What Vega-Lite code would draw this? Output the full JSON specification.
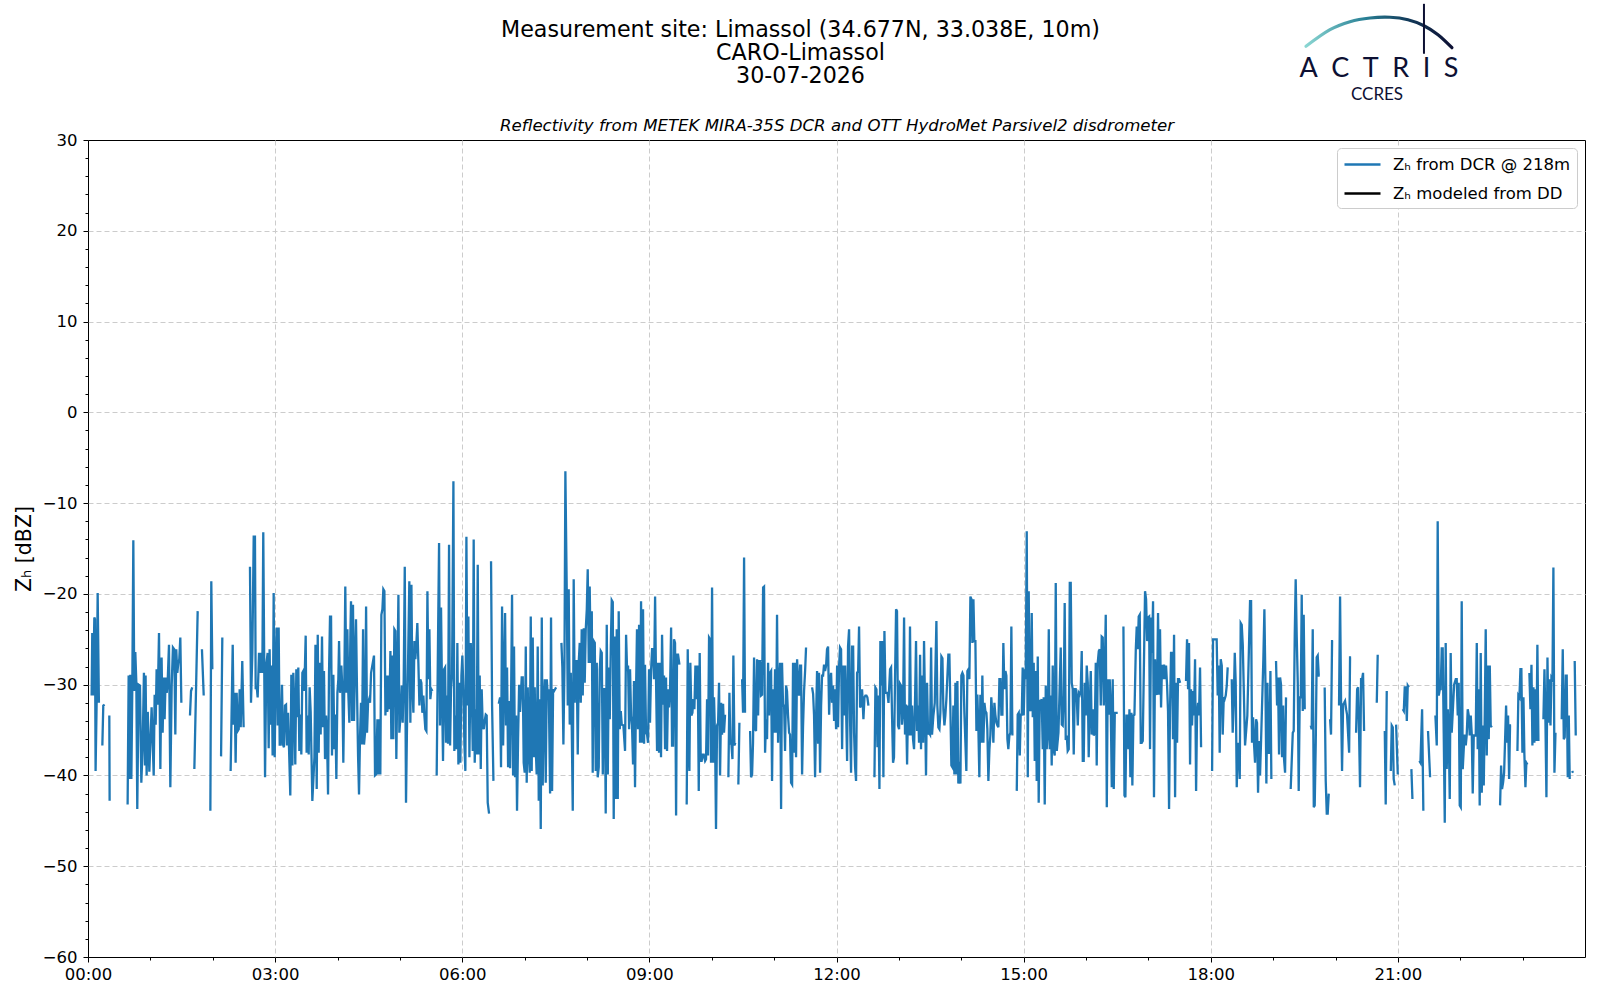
{
  "$schema": "https://vega.github.io/schema/vega-lite/v6.json",
  "description": "Reflectivity from METEK MIRA-35S DCR, Limassol, 30-07-2026",
  "width": 1497,
  "height": 817,
  "autosize": {"type": "none"},
  "padding": {"left": 88, "top": 140, "right": 15, "bottom": 43},
  "background": "white",
  "title": {
    "text": ["Measurement site: Limassol (34.677N, 33.038E, 10m)", "CARO-Limassol", "30-07-2026"],
    "fontSize": 22.2,
    "fontWeight": "normal",
    "lineHeight": 23,
    "anchor": "middle",
    "frame": "group",
    "dx": -36,
    "offset": -84.5,
    "color": "black"
  },
  "datasets": {
    "zh": [
      {"m":3.5,"z":-31.2},{"m":4.1,"z":-24.3},{"m":4.8,"z":-31.2},{"m":6.1,"z":-22.6},{"m":6.7,"z":-22.8},{"m":7.3,"z":-39.5},{"m":8.3,"z":-32.0},{"m":9.3,"z":-19.9},{"m":10.5,"z":-32.0},{"m":11.5,"z":null},
      {"m":13.8,"z":-36.7},{"m":14.7,"z":-32.3},{"m":16.0,"z":-32.2},{"m":17.5,"z":null},
      {"m":20.5,"z":-33.4},{"m":20.8,"z":-42.8},{"m":22,"z":null},
      {"m":38.1,"z":-43.2},{"m":39.1,"z":-29.0},{"m":40.1,"z":-40.4},{"m":40.7,"z":-28.9},{"m":41.7,"z":-40.4},{"m":42.6,"z":-30.5},{"m":43.6,"z":-14.1},{"m":44.5,"z":-30.7},{"m":45.5,"z":-26.4},{"m":46.5,"z":-29.8},{"m":47.4,"z":-43.7},{"m":48.7,"z":-30.0},{"m":50.0,"z":-30.1},{"m":51.3,"z":-40.8},{"m":52.6,"z":-36.7},{"m":53.8,"z":-28.7},{"m":54.8,"z":-38.9},{"m":55.4,"z":-29.0},{"m":56.4,"z":-40.0},{"m":57.5,"z":-33.0},{"m":59.0,"z":-39.6},{"m":61.2,"z":-32.5},{"m":63.2,"z":-40.0},{"m":64.1,"z":-31.1},{"m":65.1,"z":-34.4},{"m":66.0,"z":-28.3},{"m":67.0,"z":-32.2},{"m":68.3,"z":-24.3},{"m":69.6,"z":-39.3},{"m":70.8,"z":-27.0},{"m":71.8,"z":-35.3},{"m":72.8,"z":-29.2},{"m":73.7,"z":-33.8},{"m":74.7,"z":-29.2},{"m":75.7,"z":-30.9},{"m":76.6,"z":-29.8},{"m":77.9,"z":-25.6},{"m":79.2,"z":-41.3},{"m":80.5,"z":-30.1},{"m":81.7,"z":-25.9},{"m":83.0,"z":-26.1},{"m":84.0,"z":-35.5},{"m":84.9,"z":-26.1},{"m":85.9,"z":-28.7},{"m":86.9,"z":-27.6},{"m":87.8,"z":-27.2},{"m":88.8,"z":-24.8},{"m":89.8,"z":-32.0},{"m":91,"z":null},
      {"m":98.1,"z":-33.4},{"m":99.1,"z":-30.7},{"m":100.3,"z":-30.3},{"m":101.3,"z":null},
      {"m":102.3,"z":-39.3},{"m":105.5,"z":-21.9},{"m":107,"z":null},
      {"m":109.6,"z":-26.1},{"m":111.3,"z":-31.2},{"m":113,"z":null},
      {"m":117.7,"z":-43.9},{"m":118.6,"z":-18.6},{"m":119.6,"z":-28.3},{"m":121,"z":null},
      {"m":128.0,"z":-37.9},{"m":129.2,"z":-24.8},{"m":131,"z":null},
      {"m":137.2,"z":-39.5},{"m":139.2,"z":-25.6},{"m":140.1,"z":-34.4},{"m":141.1,"z":-30.9},{"m":142.0,"z":-38.6},{"m":143.0,"z":-30.9},{"m":144.0,"z":-35.1},{"m":145.0,"z":-34.9},{"m":145.9,"z":-30.5},{"m":146.9,"z":-34.7},{"m":148.4,"z":-27.4},{"m":149.7,"z":-34.7},{"m":152,"z":null},
      {"m":155.8,"z":-17.0},{"m":156.8,"z":-32.0},{"m":158.1,"z":-26.5},{"m":159.4,"z":-13.7},{"m":160.6,"z":-13.7},{"m":161.3,"z":-30.5},{"m":162.2,"z":-30.1},{"m":163.2,"z":-31.4},{"m":164.5,"z":-26.5},{"m":165.4,"z":-28.7},{"m":166.7,"z":-26.5},{"m":167.7,"z":-28.7},{"m":168.6,"z":-13.2},{"m":170.3,"z":-40.2},{"m":171.5,"z":-27.8},{"m":172.8,"z":-26.5},{"m":173.8,"z":-37.0},{"m":174.7,"z":-26.1},{"m":175.7,"z":-34.4},{"m":176.7,"z":-27.9},{"m":177.6,"z":-37.8},{"m":178.6,"z":-19.9},{"m":179.6,"z":-38.0},{"m":180.5,"z":-27.9},{"m":181.5,"z":-23.7},{"m":182.5,"z":-34.5},{"m":183.4,"z":-23.7},{"m":184.4,"z":-36.6},{"m":185.3,"z":-36.6},{"m":186.6,"z":-30.0},{"m":187.6,"z":-36.6},{"m":188.5,"z":-36.9},{"m":189.5,"z":-32.3},{"m":190.5,"z":-32.2},{"m":191.4,"z":-36.7},{"m":192.4,"z":-33.1},{"m":193.4,"z":-37.1},{"m":194.6,"z":-42.2},{"m":195.6,"z":-28.9},{"m":196.6,"z":-38.9},{"m":197.5,"z":-28.7},{"m":198.5,"z":-32.3},{"m":199.4,"z":-38.8},{"m":200.4,"z":-28.3},{"m":201.4,"z":-33.6},{"m":202.3,"z":-28.1},{"m":203.3,"z":-37.3},{"m":204.3,"z":-33.3},{"m":205.2,"z":-37.7},{"m":206.2,"z":-28.7},{"m":207.1,"z":-28.5},{"m":208.1,"z":-30.7},{"m":209.4,"z":-24.6},{"m":210.3,"z":-37.5},{"m":211.3,"z":-33.4},{"m":212.3,"z":-37.7},{"m":213.2,"z":-30.3},{"m":214.2,"z":-33.0},{"m":215.8,"z":-42.8},{"m":217.1,"z":-39.7},{"m":217.8,"z":-38.0},{"m":218.8,"z":-25.6},{"m":220.0,"z":-41.5},{"m":221.0,"z":-24.5},{"m":221.9,"z":-37.5},{"m":222.9,"z":-27.6},{"m":223.8,"z":-35.5},{"m":225.1,"z":-24.7},{"m":226.1,"z":-34.7},{"m":227.0,"z":-28.5},{"m":228.0,"z":-38.2},{"m":229.0,"z":-33.4},{"m":229.9,"z":-35.5},{"m":230.9,"z":-42.1},{"m":231.8,"z":-28.9},{"m":232.8,"z":-22.5},{"m":233.8,"z":-22.5},{"m":234.7,"z":-37.8},{"m":236.0,"z":-28.9},{"m":237.0,"z":-37.1},{"m":237.9,"z":-33.3},{"m":238.9,"z":-40.4},{"m":239.9,"z":-30.9},{"m":240.8,"z":-29.4},{"m":241.5,"z":-25.2},{"m":242.4,"z":-30.9},{"m":243.7,"z":-27.9},{"m":244.7,"z":-30.5},{"m":245.6,"z":-38.6},{"m":246.6,"z":-29.4},{"m":247.5,"z":-19.2},{"m":248.5,"z":-30.9},{"m":249.5,"z":-23.9},{"m":250.4,"z":-30.9},{"m":251.4,"z":-34.2},{"m":252.4,"z":-24.3},{"m":253.0,"z":-20.8},{"m":254.0,"z":-34.0},{"m":254.9,"z":-21.2},{"m":255.9,"z":-34.0},{"m":256.9,"z":-27.2},{"m":257.8,"z":-22.8},{"m":258.8,"z":-30.9},{"m":259.8,"z":-37.9},{"m":260.7,"z":-42.1},{"m":261.7,"z":-35.6},{"m":262.6,"z":-32.0},{"m":263.6,"z":-36.6},{"m":264.6,"z":-23.9},{"m":265.5,"z":-36.6},{"m":266.5,"z":-35.3},{"m":267.5,"z":-21.4},{"m":268.4,"z":-35.3},{"m":269.4,"z":-32.0},{"m":270.4,"z":-31.6},
      {"m":271.3,"z":-32.0},{"m":272.3,"z":-28.7},{"m":275.1,"z":-26.8},{"m":276.1,"z":-40.0},{"m":277.1,"z":-39.9},{"m":278.4,"z":-33.8},{"m":279.3,"z":-39.9},{"m":280.3,"z":-33.8},{"m":281.2,"z":-39.9},{"m":282.2,"z":-22.3},{"m":283.2,"z":-21.7},{"m":284.1,"z":-19.5},{"m":285.1,"z":-19.7},{"m":286.1,"z":-33.4},{"m":287.0,"z":-29.0},{"m":288.0,"z":-33.0},{"m":289.0,"z":-29.0},{"m":289.9,"z":-32.7},{"m":290.9,"z":-26.3},{"m":291.8,"z":-36.0},{"m":292.8,"z":-26.8},{"m":293.7,"z":-36.0},{"m":294.7,"z":-23.9},{"m":295.7,"z":-24.1},{"m":296.6,"z":-38.2},{"m":297.6,"z":-29.0},{"m":298.6,"z":-20.1},{"m":299.5,"z":-35.3},{"m":300.8,"z":-33.1},{"m":301.8,"z":-30.1},{"m":302.7,"z":-34.2},{"m":303.7,"z":-29.4},{"m":304.7,"z":-17.0},{"m":305.9,"z":-43.0},{"m":306.9,"z":-34.2},{"m":307.9,"z":-27.4},{"m":309.1,"z":-18.6},{"m":310.1,"z":-34.2},{"m":311.1,"z":-19.0},{"m":312.0,"z":-30.1},{"m":313.0,"z":-33.1},{"m":314.0,"z":-25.2},{"m":314.9,"z":-27.2},{"m":315.9,"z":-25.4},{"m":316.8,"z":-23.2},{"m":317.8,"z":-27.6},{"m":318.8,"z":-32.3},{"m":319.7,"z":-29.4},{"m":320.7,"z":-29.8},{"m":321.6,"z":-33.1},{"m":322.6,"z":-31.2},{"m":323.6,"z":-33.4},{"m":324.5,"z":-34.9},{"m":325.5,"z":-35.1},{"m":326.5,"z":-19.7},{"m":327.4,"z":-29.4},{"m":328.4,"z":-23.9},{"m":329.3,"z":-31.6},{"m":330.3,"z":-30.5},{"m":331.3,"z":-30.7},{"m":333,"z":null},
      {"m":335.4,"z":-40.0},{"m":336.7,"z":-25.0},{"m":337.7,"z":-14.4},{"m":338.6,"z":-34.5},{"m":339.6,"z":-21.5},{"m":340.6,"z":-31.4},{"m":341.5,"z":-38.4},{"m":342.5,"z":-28.3},{"m":343.5,"z":-28.1},{"m":344.4,"z":-36.4},{"m":345.4,"z":-31.2},{"m":346.3,"z":-36.5},{"m":347.3,"z":-14.6},{"m":348.3,"z":-36.7},{"m":349.2,"z":-30.5},{"m":350.2,"z":-28.9},{"m":351.5,"z":-7.6},{"m":352.4,"z":-37.3},{"m":353.4,"z":-33.4},{"m":354.4,"z":-37.1},{"m":355.3,"z":-25.4},{"m":356.3,"z":-38.8},{"m":357.2,"z":-29.8},{"m":358.2,"z":-38.6},{"m":359.2,"z":-29.0},{"m":360.1,"z":-26.8},{"m":361.1,"z":-30.5},{"m":362.1,"z":-36.7},{"m":363.0,"z":-39.5},{"m":364.0,"z":-13.7},{"m":365.0,"z":-32.3},{"m":365.9,"z":-22.5},{"m":366.9,"z":-38.0},{"m":368.2,"z":-25.4},{"m":369.1,"z":-29.8},{"m":370.1,"z":-37.3},{"m":371.0,"z":-14.0},{"m":372.0,"z":-38.6},{"m":373.0,"z":-32.7},{"m":373.9,"z":-37.7},{"m":374.9,"z":-16.8},{"m":375.8,"z":-37.7},{"m":376.8,"z":-29.0},{"m":377.8,"z":-39.3},{"m":378.7,"z":-30.5},{"m":379.7,"z":-34.5},{"m":380.7,"z":-34.9},{"m":381.6,"z":-34.0},{"m":382.6,"z":-33.3},{"m":383.5,"z":-33.4},{"m":384.5,"z":-43.0},{"m":385.8,"z":-44.2},{"m":386.8,"z":null},
      {"m":387.7,"z":-16.4},{"m":388.7,"z":-32.3},{"m":390.0,"z":-40.6},{"m":392,"z":null},
      {"m":395.1,"z":-32.1},{"m":396.4,"z":-31.4},{"m":397.3,"z":-39.1},{"m":398.3,"z":-21.4},{"m":399.3,"z":-36.7},{"m":400.2,"z":-29.8},{"m":401.2,"z":-22.1},{"m":402.1,"z":-34.5},{"m":403.1,"z":-28.1},{"m":404.1,"z":-39.1},{"m":405.0,"z":-31.8},{"m":406.0,"z":-39.2},{"m":407.0,"z":-30.9},{"m":407.9,"z":-20.1},{"m":408.9,"z":-40.0},{"m":409.8,"z":-25.8},{"m":410.8,"z":-40.2},{"m":411.8,"z":-33.4},{"m":412.7,"z":-43.9},{"m":413.7,"z":-36.0},{"m":414.7,"z":-30.0},{"m":415.6,"z":-33.0},{"m":417.2,"z":-29.2},{"m":418.2,"z":-29.2},{"m":419.1,"z":-38.6},{"m":420.1,"z":-39.7},{"m":421.1,"z":-25.8},{"m":422.0,"z":-40.8},{"m":423.0,"z":-30.3},{"m":424.0,"z":-37.7},{"m":424.9,"z":-39.7},{"m":425.9,"z":-22.5},{"m":426.8,"z":-39.5},{"m":427.8,"z":-24.8},{"m":428.8,"z":-38.0},{"m":429.7,"z":-30.3},{"m":430.7,"z":-37.1},{"m":431.6,"z":-39.9},{"m":432.6,"z":-25.8},{"m":433.6,"z":-42.8},{"m":434.5,"z":-31.6},{"m":435.5,"z":-45.9},{"m":436.5,"z":-22.6},{"m":437.4,"z":-41.1},{"m":438.4,"z":-32.0},{"m":439.4,"z":-29.4},{"m":440.3,"z":-40.8},{"m":441.3,"z":-29.4},{"m":442.2,"z":-31.1},{"m":443.2,"z":-30.5},{"m":444.5,"z":-42.0},{"m":445.4,"z":-22.6},{"m":446.4,"z":-41.7},{"m":447.4,"z":-30.5},{"m":448.3,"z":-30.7},{"m":449.3,"z":-30.5},{"m":450.3,"z":-30.3},{"m":452,"z":null},
      {"m":455.4,"z":-25.4},{"m":456.3,"z":-28.1},{"m":457.3,"z":-36.6},{"m":458.3,"z":-28.1},{"m":459.2,"z":-6.5},{"m":460.5,"z":-19.5},{"m":461.5,"z":-32.3},{"m":462.4,"z":-19.5},{"m":463.4,"z":-34.4},{"m":464.4,"z":-28.7},{"m":465.3,"z":-34.4},{"m":466.3,"z":-43.9},{"m":467.2,"z":-18.4},{"m":468.2,"z":-32.0},{"m":469.2,"z":-27.4},{"m":470.1,"z":-27.4},{"m":471.1,"z":-37.7},{"m":472.1,"z":-27.4},{"m":473.0,"z":-25.4},{"m":474.0,"z":-32.0},{"m":474.9,"z":-23.9},{"m":475.9,"z":-31.2},{"m":476.9,"z":-23.8},{"m":477.8,"z":-29.8},{"m":478.8,"z":-23.9},{"m":479.8,"z":-21.7},{"m":480.7,"z":-17.3},{"m":481.7,"z":-27.6},{"m":482.6,"z":-19.2},{"m":483.6,"z":-27.6},{"m":484.6,"z":-21.9},{"m":485.5,"z":-39.7},{"m":486.5,"z":-25.2},{"m":487.5,"z":-25.4},{"m":488.4,"z":-39.5},{"m":489.4,"z":-27.6},{"m":490.3,"z":-40.2},{"m":491.3,"z":-39.1},{"m":492.3,"z":-28.3},{"m":493.2,"z":-26.3},{"m":494.2,"z":-26.5},{"m":495.2,"z":-39.9},{"m":496.1,"z":-30.5},{"m":497.1,"z":-30.5},{"m":498.0,"z":-44.2},{"m":499.0,"z":-23.4},{"m":500.0,"z":-39.9},{"m":500.9,"z":-28.1},{"m":501.9,"z":-33.8},{"m":502.9,"z":-25.8},{"m":503.8,"z":-20.7},{"m":504.8,"z":-20.9},{"m":505.7,"z":-44.8},{"m":506.7,"z":-24.7},{"m":507.7,"z":-42.6},{"m":508.6,"z":-23.9},{"m":509.6,"z":-42.6},{"m":510.5,"z":-21.9},{"m":511.5,"z":-34.9},{"m":512.5,"z":-32.9},{"m":513.4,"z":-34.4},{"m":515.0,"z":-34.5},{"m":516.6,"z":-37.3},{"m":517.6,"z":-24.5},{"m":518.6,"z":-28.5},{"m":519.5,"z":-27.9},{"m":520.5,"z":-34.9},
      {"m":521.4,"z":-28.3},{"m":522.4,"z":-33.4},{"m":523.3,"z":-34.5},{"m":524.3,"z":-38.8},{"m":525.2,"z":-29.6},{"m":526.2,"z":-41.3},{"m":527.2,"z":-30.5},{"m":528.1,"z":-23.9},{"m":529.1,"z":-34.9},{"m":530.1,"z":-23.4},{"m":531.0,"z":-36.4},{"m":532.0,"z":-20.8},{"m":533.0,"z":-36.4},{"m":533.9,"z":-21.7},{"m":534.9,"z":-36.5},{"m":535.8,"z":-27.8},{"m":536.8,"z":-35.3},{"m":537.8,"z":-35.5},{"m":538.7,"z":-36.4},{"m":539.7,"z":-28.3},{"m":540.6,"z":-34.2},{"m":541.6,"z":-28.5},{"m":542.6,"z":-26.1},{"m":543.5,"z":-26.1},{"m":544.5,"z":-29.4},{"m":545.5,"z":-20.3},{"m":546.4,"z":-29.4},{"m":547.4,"z":-37.3},{"m":548.3,"z":-27.6},{"m":549.3,"z":-37.5},{"m":550.3,"z":-27.6},{"m":551.2,"z":-38.0},{"m":552.2,"z":-24.5},{"m":553.2,"z":-32.2},{"m":554.1,"z":-29.0},{"m":555.1,"z":-37.1},{"m":556.0,"z":-29.2},{"m":557.0,"z":-37.3},{"m":558.0,"z":-30.5},{"m":558.9,"z":-32.5},{"m":559.9,"z":-30.5},{"m":560.9,"z":-23.7},{"m":561.8,"z":-36.7},{"m":562.8,"z":-36.7},{"m":563.7,"z":-25.0},{"m":564.7,"z":-25.4},{"m":565.7,"z":-44.4},{"m":566.6,"z":-26.7},{"m":567.6,"z":-26.7},{"m":568.9,"z":-27.8},{"m":570,"z":null},
      {"m":575.9,"z":-43.2},{"m":576.9,"z":-26.1},{"m":577.8,"z":-37.0},{"m":578.5,"z":-39.5},{"m":579.4,"z":-27.6},{"m":580.4,"z":-33.4},{"m":581.4,"z":-33.1},{"m":582.3,"z":-31.6},{"m":583.3,"z":-32.7},{"m":584.3,"z":-27.9},{"m":585.2,"z":-31.6},{"m":586.5,"z":-27.9},{"m":587.5,"z":-41.7},{"m":588.4,"z":-26.5},{"m":589.4,"z":-38.4},{"m":590.3,"z":-38.4},{"m":591.3,"z":-37.7},{"m":592.3,"z":-37.7},{"m":593.6,"z":-38.4},{"m":594.5,"z":-38.2},{"m":595.5,"z":-31.6},{"m":596.4,"z":-37.8},{"m":597.4,"z":-24.8},{"m":598.4,"z":-25.0},{"m":599.3,"z":-38.6},{"m":600.3,"z":-19.3},{"m":601.3,"z":-38.6},{"m":602.2,"z":-31.4},{"m":603.2,"z":-36.0},{"m":604.1,"z":-45.9},{"m":605.1,"z":-34.5},{"m":606.1,"z":-34.2},{"m":607.0,"z":-29.8},{"m":608.0,"z":-40.0},{"m":609.0,"z":-32.0},{"m":609.9,"z":-35.5},{"m":610.9,"z":-32.1},{"m":611.8,"z":-35.3},{"m":612.8,"z":-33.3},{"m":614,"z":null},
      {"m":616.0,"z":-40.2},{"m":617.0,"z":-30.9},{"m":617.9,"z":-36.5},{"m":618.9,"z":-36.5},{"m":619.9,"z":-38.2},{"m":620.8,"z":-26.8},{"m":621.8,"z":-36.7},{"m":622.7,"z":-36.4},{"m":624,"z":null},
      {"m":625.6,"z":-41.0},{"m":626.6,"z":-34.2},{"m":628,"z":null},
      {"m":629.2,"z":-29.4},{"m":630.1,"z":-33.1},{"m":631.1,"z":-16.0},{"m":632.0,"z":-33.1},{"m":635,"z":null},
      {"m":636.9,"z":-35.1},{"m":637.8,"z":-40.2},{"m":638.8,"z":-39.9},{"m":639.7,"z":-36.4},{"m":640.7,"z":-27.0},{"m":641.7,"z":-34.9},{"m":642.6,"z":-35.1},{"m":643.6,"z":-27.2},{"m":644.6,"z":-33.4},{"m":645.5,"z":-27.4},{"m":646.5,"z":-27.4},{"m":647.4,"z":-31.2},{"m":648.4,"z":-31.1},{"m":649.4,"z":-19.3},{"m":650.3,"z":-19.2},{"m":651.3,"z":-37.5},{"m":652.2,"z":-33.8},{"m":653.2,"z":-36.0},{"m":654.2,"z":-27.6},{"m":655.1,"z":-33.4},{"m":656.1,"z":-28.7},{"m":657.1,"z":-28.5},{"m":658.0,"z":-40.6},{"m":659.0,"z":-30.5},{"m":660.0,"z":-35.3},{"m":660.9,"z":-28.3},{"m":661.9,"z":-35.3},{"m":662.8,"z":-22.3},{"m":663.8,"z":-36.4},{"m":664.8,"z":-29.8},{"m":665.7,"z":-27.6},{"m":666.7,"z":-43.7},{"m":667.6,"z":-27.6},{"m":668.6,"z":-32.3},{"m":669.6,"z":-32.3},{"m":670.5,"z":-37.3},{"m":671.5,"z":-30.1},{"m":672.4,"z":-30.7},{"m":673.4,"z":-33.4},{"m":674.4,"z":-35.3},{"m":675.3,"z":-35.5},{"m":676.3,"z":-40.8},{"m":677.3,"z":-41.0},{"m":678.2,"z":-27.6},{"m":679.2,"z":-37.5},{"m":680.1,"z":-27.6},{"m":681.1,"z":-38.0},{"m":682.1,"z":-27.2},{"m":683.0,"z":-29.8},{"m":684.0,"z":-31.2},{"m":685.0,"z":-27.9},{"m":685.9,"z":-27.9},{"m":686.9,"z":-39.9},{"m":687.8,"z":-34.7},{"m":688.8,"z":-30.7},{"m":689.8,"z":-28.5},{"m":690.7,"z":-25.9},{"m":693,"z":null},
      {"m":696.5,"z":-30.3},{"m":697.5,"z":-31.0},{"m":698.4,"z":-33.4},{"m":699.4,"z":-40.2},{"m":700.4,"z":-33.4},{"m":701.3,"z":-28.5},{"m":702.3,"z":-36.5},{"m":703.2,"z":-28.7},{"m":704.2,"z":-39.7},{"m":705.2,"z":-32.3},{"m":706.1,"z":-29.0},{"m":707.1,"z":-29.0},{"m":708.0,"z":-27.8},{"m":709.0,"z":-28.5},{"m":710.0,"z":-27.9},{"m":710.9,"z":-26.1},{"m":711.9,"z":-25.8},{"m":712.9,"z":-33.3},{"m":713.8,"z":-29.8},{"m":714.8,"z":-28.7},{"m":715.7,"z":-32.0},{"m":716.7,"z":-30.1},{"m":717.7,"z":-34.0},{"m":718.6,"z":-30.5},{"m":719.6,"z":-34.9},{"m":720.6,"z":-27.9},{"m":721.5,"z":-34.7},{"m":722.5,"z":-27.9},{"m":723.4,"z":-25.9},{"m":724.4,"z":-26.1},{"m":725.4,"z":-37.1},{"m":726.3,"z":-27.9},{"m":727.3,"z":-33.4},{"m":728.3,"z":-27.9},{"m":729.2,"z":-32.5},{"m":730.2,"z":-38.4},{"m":731.1,"z":-25.8},{"m":732.1,"z":-23.9},{"m":733.1,"z":-34.2},{"m":734.0,"z":-39.7},{"m":735.0,"z":-25.8},{"m":736.0,"z":-25.8},{"m":736.9,"z":-35.3},{"m":737.9,"z":-39.1},{"m":738.8,"z":-40.6},{"m":739.8,"z":-28.7},{"m":740.8,"z":-28.5},{"m":741.7,"z":-23.6},{"m":742.7,"z":-32.5},{"m":743.6,"z":-32.3},{"m":744.6,"z":-30.5},{"m":745.9,"z":-33.8},{"m":746.9,"z":-31.4},{"m":747.8,"z":-31.2},{"m":748.8,"z":-31.2},{"m":749.7,"z":-31.4},{"m":750.7,"z":-32.3},{"m":753,"z":null},
      {"m":756.5,"z":-40.2},{"m":757.4,"z":-30.3},{"m":758.4,"z":-30.5},{"m":759.4,"z":-36.9},{"m":760.3,"z":-31.2},{"m":761.3,"z":-41.5},{"m":762.2,"z":-25.2},{"m":763.2,"z":-30.1},{"m":764.2,"z":-25.2},{"m":765.1,"z":-40.2},{"m":766.1,"z":-24.1},{"m":767.1,"z":-30.9},{"m":768.0,"z":-30.9},{"m":769.0,"z":-30.9},{"m":770.0,"z":-32.0},
      {"m":771.5,"z":-28.3},{"m":772.5,"z":-28.1},{"m":773.4,"z":-33.3},{"m":774.4,"z":-38.6},{"m":775.3,"z":-38.0},{"m":776.3,"z":-29.4},{"m":777.3,"z":-21.7},{"m":778.2,"z":-21.9},{"m":779.2,"z":-34.5},{"m":780.2,"z":-34.9},{"m":781.1,"z":-29.9},{"m":782.1,"z":-30.1},{"m":783.0,"z":-34.4},{"m":784.0,"z":-33.1},{"m":785.0,"z":-22.6},{"m":785.9,"z":-35.5},{"m":786.9,"z":-32.2},{"m":787.9,"z":-38.8},{"m":788.8,"z":-32.3},{"m":789.8,"z":-35.6},{"m":790.7,"z":-23.6},{"m":791.7,"z":-35.6},{"m":792.7,"z":-32.3},{"m":793.6,"z":-36.0},{"m":794.6,"z":-37.1},{"m":795.6,"z":-31.4},{"m":796.5,"z":-25.2},{"m":797.5,"z":-35.1},{"m":798.4,"z":-32.3},{"m":799.4,"z":-36.4},{"m":800.4,"z":-26.7},{"m":801.3,"z":-37.1},{"m":802.3,"z":-29.0},{"m":803.3,"z":-36.4},{"m":804.2,"z":-25.2},{"m":805.2,"z":-32.5},{"m":806.1,"z":-40.0},{"m":807.1,"z":-29.8},{"m":808.1,"z":-35.5},{"m":809.0,"z":-35.3},{"m":810.0,"z":-35.5},{"m":811.0,"z":-25.9},{"m":811.9,"z":-35.5},{"m":813.2,"z":-33.4},{"m":814.5,"z":-32.0},{"m":816.1,"z":-23.0},{"m":817.0,"z":-32.3},{"m":818.0,"z":-34.7},{"m":819.0,"z":-34.9},{"m":819.9,"z":-33.1},{"m":820.9,"z":-26.9},{"m":821.9,"z":-27.1},{"m":822.8,"z":-32.7},{"m":823.8,"z":-34.5},{"m":824.7,"z":-33.4},{"m":825.7,"z":-31.6},{"m":826.7,"z":-29.0},{"m":827.6,"z":-26.7},{"m":828.6,"z":-26.7},{"m":829.5,"z":-32.3},{"m":830.5,"z":-38.9},{"m":831.5,"z":-39.1},{"m":832.4,"z":-32.3},{"m":833.4,"z":-39.9},{"m":834.4,"z":-29.8},{"m":835.3,"z":-39.9},{"m":836.3,"z":-29.6},{"m":837.2,"z":-40.9},{"m":838.2,"z":-38.5},{"m":839.2,"z":-40.9},{"m":840.1,"z":-29.0},{"m":841.1,"z":-28.7},{"m":842.1,"z":-29.0},{"m":843.0,"z":-33.1},{"m":844.0,"z":-36.4},{"m":844.9,"z":-39.5},{"m":845.9,"z":-28.5},{"m":846.9,"z":-28.3},{"m":847.8,"z":-29.4},{"m":848.8,"z":-20.3},{"m":849.8,"z":-20.6},{"m":850.7,"z":-25.4},{"m":851.7,"z":-20.6},{"m":852.6,"z":-25.2},{"m":853.6,"z":-25.2},{"m":854.6,"z":-35.1},{"m":855.5,"z":-31.1},{"m":856.5,"z":-34.9},{"m":857.4,"z":-40.2},{"m":858.4,"z":-31.1},{"m":859.4,"z":-36.4},{"m":860.3,"z":-29.0},{"m":861.3,"z":-36.4},{"m":862.3,"z":-32.0},{"m":863.2,"z":-32.9},{"m":864.2,"z":-33.1},{"m":865.1,"z":-34.9},{"m":866.1,"z":-40.6},{"m":867.1,"z":-37.1},{"m":868.0,"z":-35.6},{"m":868.9,"z":-31.4},{"m":869.9,"z":-33.3},{"m":870.9,"z":-36.4},{"m":871.9,"z":-32.0},{"m":872.8,"z":-33.3},{"m":873.8,"z":-34.2},{"m":874.8,"z":-34.5},{"m":875.7,"z":-34.7},{"m":876.7,"z":-29.4},{"m":877.7,"z":-29.4},{"m":878.6,"z":-33.3},{"m":879.6,"z":-33.3},{"m":880.5,"z":-25.4},{"m":881.5,"z":-30.5},{"m":882.5,"z":-28.5},{"m":883.4,"z":-29.0},{"m":884.4,"z":-36.0},{"m":885.3,"z":-37.1},{"m":886.3,"z":-35.6},{"m":887.3,"z":-35.3},{"m":888.2,"z":-23.6},{"m":889.2,"z":-35.6},{"m":890.5,"z":null},
      {"m":893.4,"z":-41.7},{"m":894.3,"z":-33.3},{"m":895.3,"z":-33.1},{"m":896.3,"z":-37.8},{"m":897.2,"z":-33.3},{"m":898.2,"z":-33.3},{"m":899.1,"z":-28.1},{"m":900.1,"z":-33.4},{"m":901.1,"z":-28.3},{"m":902.0,"z":-29.4},{"m":903.0,"z":-13.1},{"m":904.0,"z":-40.2},{"m":904.9,"z":-19.7},{"m":905.9,"z":-32.7},{"m":906.8,"z":-32.9},{"m":907.8,"z":-22.1},{"m":908.8,"z":-33.6},{"m":909.7,"z":-27.6},{"m":910.7,"z":-38.4},{"m":911.6,"z":-28.5},{"m":912.6,"z":-40.6},{"m":913.6,"z":-26.9},{"m":914.5,"z":-43.0},{"m":915.5,"z":-31.8},{"m":916.5,"z":-31.8},{"m":917.4,"z":-31.6},{"m":918.4,"z":-37.1},{"m":919.3,"z":-31.4},{"m":920.3,"z":-43.2},{"m":921.3,"z":-30.1},{"m":922.2,"z":-37.1},{"m":923.2,"z":-35.3},{"m":924.2,"z":-23.9},{"m":925.1,"z":-37.1},{"m":926.1,"z":-31.2},{"m":927.0,"z":-38.9},{"m":928.0,"z":-27.9},{"m":929.0,"z":-37.3},{"m":929.9,"z":-37.8},{"m":930.9,"z":-18.8},{"m":931.9,"z":-37.3},{"m":933.5,"z":-35.3},{"m":935.7,"z":-25.9},{"m":936.7,"z":-34.4},{"m":937.6,"z":-34.5},{"m":938.6,"z":-31.2},{"m":939.5,"z":-21.0},{"m":940.5,"z":-36.1},{"m":941.5,"z":-35.6},{"m":942.4,"z":-37.3},{"m":943.4,"z":-37.1},{"m":944.4,"z":-18.8},{"m":945.3,"z":-18.8},{"m":946.3,"z":-29.8},{"m":947.2,"z":-30.5},{"m":948.2,"z":-37.7},{"m":949.2,"z":-30.5},{"m":950.1,"z":-30.5},{"m":951.1,"z":-31.4},{"m":952.1,"z":-34.5},{"m":953.0,"z":-30.9},{"m":954.0,"z":-31.1},{"m":954.9,"z":-30.7},{"m":955.9,"z":-26.3},{"m":956.9,"z":-38.4},{"m":957.8,"z":-38.4},{"m":958.8,"z":-29.8},{"m":959.8,"z":-33.4},{"m":960.7,"z":-27.9},{"m":961.7,"z":-29.8},{"m":962.6,"z":-38.0},{"m":963.6,"z":-32.3},{"m":964.6,"z":-28.5},{"m":965.5,"z":-35.5},{"m":966.5,"z":-32.7},{"m":967.4,"z":-35.6},{"m":968.4,"z":-35.3},{"m":969.4,"z":-27.6},{"m":970.3,"z":-38.9},{"m":971.3,"z":-27.6},{"m":972.3,"z":-26.3},{"m":973.2,"z":-26.1},{"m":974.2,"z":-32.3},{"m":975.1,"z":-24.7},{"m":976.1,"z":-24.8},{"m":977.1,"z":-32.3},{"m":978.0,"z":-29.0},{"m":979.0,"z":-22.3},{"m":980.0,"z":-43.5},{"m":980.9,"z":-29.4},{"m":981.9,"z":-33.3},{"m":982.8,"z":-29.4},{"m":983.8,"z":-32.5},{"m":984.8,"z":-41.3},{"m":985.7,"z":-29.4},{"m":986.7,"z":-41.5},{"m":987.7,"z":-33.1},{"m":988.6,"z":-33.1},{"m":989.6,"z":-33.1},{"m":990.5,"z":-33.1},{"m":992,"z":null},
      {"m":996.0,"z":-23.6},{"m":997.0,"z":-42.2},{"m":997.9,"z":-42.4},{"m":998.9,"z":-33.4},{"m":999.8,"z":-33.4},{"m":1000.8,"z":-37.1},{"m":1001.8,"z":-32.7},{"m":1002.7,"z":-40.2},{"m":1003.7,"z":-33.1},{"m":1004.6,"z":-41.1},{"m":1005.6,"z":-33.4},{"m":1006.6,"z":-33.3},{"m":1007.9,"z":-26.1},{"m":1008.8,"z":-23.6},{"m":1009.8,"z":-26.1},{"m":1010.7,"z":-22.5},{"m":1011.7,"z":-22.3},{"m":1012.7,"z":-36.4},{"m":1013.6,"z":-36.4},{"m":1014.6,"z":-36.2},{"m":1016.8,"z":-19.7},{"m":1017.8,"z":-20.6},{"m":1018.8,"z":-25.2},{"m":1019.7,"z":-22.6},{"m":1020.7,"z":-22.5},
      {"m":1021.6,"z":-37.1},{"m":1022.6,"z":-22.6},{"m":1023.5,"z":-26.5},{"m":1024.5,"z":-20.8},{"m":1025.4,"z":-42.4},{"m":1026.4,"z":-27.2},{"m":1027.4,"z":-30.9},{"m":1028.3,"z":-31.1},{"m":1029.3,"z":-22.1},{"m":1030.3,"z":-31.1},{"m":1031.2,"z":-23.9},{"m":1032.2,"z":-32.5},{"m":1033.1,"z":-27.8},{"m":1034.1,"z":-29.4},{"m":1035.1,"z":-27.8},{"m":1036.0,"z":-29.4},{"m":1037.0,"z":-27.9},{"m":1038.0,"z":-30.1},{"m":1038.9,"z":-32.9},{"m":1039.9,"z":-43.7},{"m":1040.8,"z":-32.9},{"m":1041.8,"z":-26.5},{"m":1042.8,"z":-26.5},{"m":1043.7,"z":-36.0},{"m":1044.7,"z":-24.5},{"m":1045.7,"z":-42.4},{"m":1046.6,"z":-29.8},{"m":1047.6,"z":-36.4},{"m":1048.5,"z":-29.4},{"m":1049.5,"z":-29.4},{"m":1050.5,"z":-29.8},{"m":1052,"z":null},
      {"m":1056.2,"z":-29.6},{"m":1057.2,"z":-25.0},{"m":1058.2,"z":-30.5},{"m":1059.1,"z":-25.4},{"m":1060.1,"z":-38.8},{"m":1061.0,"z":-30.5},{"m":1062.0,"z":-34.5},{"m":1063.0,"z":-30.7},{"m":1063.9,"z":-33.4},{"m":1064.9,"z":-27.2},{"m":1065.9,"z":-41.7},{"m":1066.8,"z":-33.4},{"m":1067.8,"z":-32.0},{"m":1068.7,"z":-33.4},{"m":1069.7,"z":-28.1},{"m":1070.7,"z":-36.9},{"m":1073,"z":null},
      {"m":1081.3,"z":-39.5},{"m":1082.2,"z":-25.0},{"m":1085.7,"z":-25.0},{"m":1086.7,"z":-31.2},{"m":1087.7,"z":-27.9},{"m":1088.6,"z":-37.5},{"m":1089.6,"z":-27.2},{"m":1090.6,"z":-27.9},{"m":1091.5,"z":-35.5},{"m":1092.5,"z":-31.4},{"m":1093.4,"z":-31.6},{"m":1094.4,"z":-31.2},{"m":1095.4,"z":-30.1},{"m":1096.3,"z":-28.1},{"m":1098,"z":null},
      {"m":1100.2,"z":-29.4},{"m":1101.1,"z":-35.3},{"m":1102.1,"z":-32.0},{"m":1103.1,"z":-26.5},{"m":1104.0,"z":-29.8},{"m":1105.0,"z":-41.3},{"m":1106.0,"z":-36.4},{"m":1106.9,"z":-36.7},{"m":1107.9,"z":-40.4},{"m":1108.8,"z":-23.2},{"m":1109.8,"z":-23.4},{"m":1110.8,"z":-25.6},{"m":1113.0,"z":-36.7},{"m":1115.2,"z":-33.4},{"m":1117.8,"z":-20.8},{"m":1118.8,"z":-20.8},{"m":1119.7,"z":-36.4},{"m":1120.7,"z":-33.6},{"m":1121.7,"z":-36.7},{"m":1122.6,"z":-38.6},{"m":1123.6,"z":-33.8},{"m":1124.5,"z":-34.2},{"m":1125.5,"z":-41.9},{"m":1126.5,"z":-36.2},{"m":1127.4,"z":-40.0},{"m":1128.4,"z":-36.2},{"m":1130.6,"z":-27.2},{"m":1131.6,"z":-21.7},{"m":1132.6,"z":-29.8},{"m":1133.5,"z":-40.9},{"m":1134.5,"z":-29.8},{"m":1135.5,"z":-37.5},{"m":1136.4,"z":-37.5},{"m":1137.4,"z":-28.5},{"m":1138.3,"z":-40.4},{"m":1140,"z":null},
      {"m":1142.8,"z":-27.4},{"m":1143.8,"z":-32.3},{"m":1144.7,"z":-29.2},{"m":1145.7,"z":-37.7},{"m":1146.7,"z":-29.2},{"m":1147.6,"z":-30.0},{"m":1148.6,"z":-38.0},{"m":1149.6,"z":-32.3},{"m":1150.5,"z":-38.2},{"m":1151.5,"z":-39.7},{"m":1152.4,"z":-31.4},{"m":1154,"z":null},
      {"m":1156.9,"z":-41.5},{"m":1158.9,"z":-35.3},{"m":1159.8,"z":-35.1},{"m":1160.8,"z":-24.5},{"m":1161.7,"z":-18.4},{"m":1162.7,"z":-24.7},{"m":1163.7,"z":-29.8},{"m":1164.6,"z":-41.7},{"m":1165.6,"z":-31.4},{"m":1166.6,"z":-31.4},{"m":1167.5,"z":-20.1},{"m":1168.5,"z":-32.9},{"m":1169.4,"z":-22.3},{"m":1170.4,"z":-32.7},{"m":1173,"z":null},
      {"m":1176.2,"z":-34.5},{"m":1177.1,"z":-34.9},{"m":1178.1,"z":-23.9},{"m":1179.1,"z":-43.5},{"m":1180.0,"z":-43.3},{"m":1181.0,"z":-36.4},{"m":1181.9,"z":-27.0},{"m":1182.9,"z":-26.8},{"m":1183.9,"z":-29.0},{"m":1184.8,"z":-29.0},{"m":1186,"z":null},
      {"m":1189.6,"z":-30.3},{"m":1190.6,"z":-40.6},{"m":1191.6,"z":-44.2},{"m":1192.5,"z":-44.2},{"m":1193.5,"z":-42.0},{"m":1194.2,"z":null},
      {"m":1194.8,"z":-33.8},{"m":1195.7,"z":-35.5},{"m":1196.7,"z":-25.2},{"m":1197.7,"z":-25.2},{"m":1199,"z":null},
      {"m":1203.4,"z":-32.3},{"m":1204.4,"z":-20.3},{"m":1205.4,"z":-32.3},{"m":1206.3,"z":-39.5},{"m":1207.3,"z":-32.2},{"m":1208.3,"z":-32.0},{"m":1209.2,"z":-31.8},{"m":1210.2,"z":-32.7},{"m":1211.1,"z":-33.3},{"m":1213.1,"z":-37.5},{"m":1214.0,"z":-27.0},{"m":1215.0,"z":-27.0},{"m":1216.5,"z":null},
      {"m":1219.8,"z":-35.3},{"m":1220.8,"z":-30.5},{"m":1221.7,"z":-30.3},{"m":1222.7,"z":-35.5},{"m":1223.6,"z":-41.3},{"m":1224.6,"z":-29.4},{"m":1225.6,"z":-29.4},{"m":1226.5,"z":-28.7},{"m":1227.5,"z":-35.1},{"m":1229,"z":null},
      {"m":1239.7,"z":-32.0},{"m":1240.6,"z":-26.7},{"m":1242,"z":null},
      {"m":1247.4,"z":-35.1},{"m":1248.3,"z":-43.2},{"m":1249.3,"z":-30.7},{"m":1251,"z":null},
      {"m":1253.2,"z":-39.5},{"m":1254.1,"z":-34.5},{"m":1255.1,"z":-34.7},{"m":1256.0,"z":-40.4},{"m":1257.0,"z":-41.1},{"m":1257.5,"z":null},
      {"m":1258.3,"z":-34.4},{"m":1259.9,"z":-39.9},{"m":1261,"z":null},
      {"m":1264.7,"z":-32.7},{"m":1265.7,"z":-32.9},{"m":1266.6,"z":-30.3},{"m":1267.6,"z":-30.3},{"m":1268.6,"z":-34.0},{"m":1269.5,"z":-30.1},{"m":1270.5,"z":-30.3},{"m":1272,"z":null},
      {"m":1273.0,"z":-39.3},{"m":1274.0,"z":-42.6},{"m":1275,"z":null},
      {"m":1280.7,"z":-38.4},{"m":1281.7,"z":-38.6},{"m":1283.3,"z":-32.7},{"m":1284.5,"z":-43.9},{"m":1286,"z":null},
      {"m":1289.0,"z":-35.1},{"m":1291.0,"z":-40.2},{"m":1293,"z":null},
      {"m":1296.1,"z":-33.4},{"m":1297.4,"z":-36.7},{"m":1298.3,"z":-12.0},{"m":1299.3,"z":-31.2},{"m":1300.3,"z":-30.5},{"m":1301.2,"z":-30.5},{"m":1302.2,"z":-26.0},{"m":1303.1,"z":-26.0},{"m":1304.1,"z":-35.3},{"m":1305.1,"z":-45.2},{"m":1306.0,"z":-25.4},{"m":1307.0,"z":-39.3},{"m":1308.0,"z":-32.7},{"m":1308.9,"z":-35.3},{"m":1309.9,"z":-42.6},{"m":1310.8,"z":-26.5},{"m":1311.8,"z":-35.3},{"m":1312.8,"z":-33.0},{"m":1314.1,"z":-30.0},{"m":1315.7,"z":-29.4},{"m":1316.6,"z":-29.4},{"m":1317.6,"z":-33.4},{"m":1318.5,"z":-29.8},{"m":1319.5,"z":-43.3},{"m":1320.5,"z":-43.5},{"m":1321.4,"z":-20.8},{"m":1322.4,"z":-39.3},{"m":1323.4,"z":-37.0},{"m":1324.3,"z":-35.5},{"m":1325.3,"z":-36.7},{"m":1326.2,"z":-35.6},{"m":1327.2,"z":-32.7},{"m":1328.2,"z":-33.4},{"m":1329.1,"z":-35.6},{"m":1330.1,"z":-33.4},{"m":1331.1,"z":-35.5},{"m":1332.0,"z":-42.0},{"m":1333.0,"z":-35.6},{"m":1333.9,"z":-35.6},{"m":1334.9,"z":-35.6},{"m":1335.9,"z":-25.4},{"m":1336.8,"z":-37.1},{"m":1337.8,"z":-30.5},{"m":1338.7,"z":-43.3},{"m":1339.7,"z":-26.5},{"m":1340.7,"z":-41.9},{"m":1341.6,"z":-34.5},{"m":1342.6,"z":-41.1},{"m":1343.6,"z":-33.1},{"m":1344.5,"z":-23.9},{"m":1345.5,"z":-37.8},{"m":1346.4,"z":-27.9},{"m":1347.4,"z":-36.0},{"m":1348.4,"z":-27.9},{"m":1349.3,"z":-34.5},{"m":1350.3,"z":-34.7},{"m":1352,"z":null},
      {"m":1358.3,"z":-43.3},{"m":1359.3,"z":-38.9},{"m":1360.2,"z":-41.5},{"m":1361.2,"z":-40.8},{"m":1362.2,"z":-39.7},{"m":1364.1,"z":-32.3},{"m":1365.0,"z":-36.4},{"m":1366.0,"z":-33.4},{"m":1367.0,"z":-40.4},{"m":1367.9,"z":-34.5},{"m":1368.9,"z":-34.5},{"m":1371,"z":null},
      {"m":1375.0,"z":-37.3},{"m":1375.9,"z":-31.2},{"m":1376.9,"z":-31.4},{"m":1377.9,"z":-28.3},{"m":1378.8,"z":-28.3},{"m":1379.8,"z":-37.5},{"m":1380.8,"z":-31.4},{"m":1381.7,"z":-37.7},{"m":1382.7,"z":-41.3},{"m":1383.6,"z":-38.6},{"m":1384.6,"z":-38.8},{"m":1385.8,"z":null},
      {"m":1386.5,"z":-28.7},{"m":1387.5,"z":-32.7},{"m":1388.5,"z":-27.8},{"m":1389.4,"z":-36.7},{"m":1390.4,"z":-30.3},{"m":1391.3,"z":-36.4},{"m":1392.3,"z":-30.5},{"m":1393.3,"z":-36.2},{"m":1394.2,"z":-25.6},{"m":1395.2,"z":-36.2},{"m":1397,"z":null},
      {"m":1400.0,"z":-33.8},{"m":1401.0,"z":-28.3},{"m":1401.9,"z":-33.6},{"m":1402.9,"z":-42.4},{"m":1403.9,"z":-27.0},{"m":1404.8,"z":-34.2},{"m":1405.8,"z":-29.4},{"m":1406.8,"z":-34.5},{"m":1407.7,"z":-29.2},{"m":1408.7,"z":-29.4},{"m":1409.6,"z":-17.1},{"m":1410.6,"z":-39.7},{"m":1411.6,"z":-35.3},{"m":1413,"z":null},
      {"m":1417.6,"z":-33.8},{"m":1418.6,"z":-26.1},{"m":1419.6,"z":-36.0},{"m":1420.5,"z":-35.8},{"m":1421.5,"z":-29.0},{"m":1422.4,"z":-29.0},{"m":1423.4,"z":-40.2},{"m":1424.4,"z":-33.4},{"m":1425.3,"z":-40.4},{"m":1426,"z":null},
      {"m":1427.6,"z":-39.5},{"m":1428.5,"z":-39.7},{"m":1429.3,"z":null},
      {"m":1430.1,"z":-27.4},{"m":1431.1,"z":-35.6}
    ]
  },
  "layer": [
    {
      "data": {"values": [{}]},
      "mark": {"type": "point", "opacity": 0},
      "encoding": {
        "x": {
          "datum": 0,
          "type": "quantitative",
          "scale": {"domain": [0, 1440], "nice": false, "zero": false},
          "axis": {
            "orient": "bottom",
            "values": [180, 360, 540, 720, 900, 1080, 1260],
            "labels": false,
            "ticks": false,
            "domain": false,
            "grid": true,
            "gridDash": [5, 3],
            "gridColor": "#cccccc",
            "title": null
          }
        },
        "y": {
          "datum": 0,
          "type": "quantitative",
          "scale": {"domain": [-60, 30], "nice": false, "zero": false},
          "axis": {
            "orient": "left",
            "values": [-50, -40, -30, -20, -10, 0, 10, 20],
            "labels": false,
            "ticks": false,
            "domain": false,
            "grid": true,
            "gridDash": [5, 3],
            "gridColor": "#cccccc",
            "title": null
          }
        }
      }
    },
    {
      "data": {"name": "zh"},
      "mark": {"type": "line", "strokeWidth": 2.3, "invalid": "break-paths-filter-domains", "clip": true},
      "encoding": {
        "x": {
          "field": "m",
          "type": "quantitative",
          "scale": {"domain": [0, 1440], "nice": false, "zero": false},
          "axis": {
            "orient": "bottom",
            "values": [0, 180, 360, 540, 720, 900, 1080, 1260],
            "labelExpr": "(datum.value < 600 ? '0' : '') + floor(datum.value / 60) + ':00'",
            "grid": false,
            "domain": false,
            "tickSize": 5,
            "tickColor": "black",
            "labelFontSize": 16.5,
            "labelPadding": 4,
            "labelFlush": false,
            "labelOverlap": false,
            "title": null
          }
        },
        "y": {
          "field": "z",
          "type": "quantitative",
          "scale": {"domain": [-60, 30], "nice": false, "zero": false},
          "axis": {
            "orient": "left",
            "values": [-60, -50, -40, -30, -20, -10, 0, 10, 20, 30],
            "format": "d",
            "grid": false,
            "domain": false,
            "tickSize": 5,
            "tickColor": "black",
            "labelFontSize": 16.5,
            "labelPadding": 6,
            "labelFlush": false,
            "title": "Zₕ [dBZ]",
            "titleFontSize": 20.5,
            "titleFontWeight": "normal",
            "titlePadding": 8
          }
        },
        "color": {
          "datum": "Zₕ from DCR @ 218m",
          "type": "nominal",
          "scale": {"domain": ["Zₕ from DCR @ 218m", "Zₕ modeled from DD"], "range": ["#1f77b4", "#000000"]},
          "legend": {
            "title": null,
            "orient": "top-right",
            "offset": 8,
            "symbolType": "M-1,0H3",
            "symbolSize": 324,
            "symbolStrokeWidth": 2.5,
            "symbolFillColor": "transparent",
            "labelFontSize": 16.5,
            "labelColor": "black",
            "labelOffset": 29,
            "labelLimit": 400,
            "rowPadding": 10,
            "padding": 6,
            "strokeColor": "#cccccc",
            "fillColor": "white",
            "cornerRadius": 4
          }
        }
      }
    },
    {
      "data": {"values": [{}]},
      "mark": {"type": "point", "opacity": 0},
      "encoding": {
        "x": {
          "datum": 0,
          "type": "quantitative",
          "scale": {"domain": [0, 1440], "nice": false, "zero": false},
          "axis": {
            "orient": "bottom",
            "values": [60, 120, 240, 300, 420, 480, 600, 660, 780, 840, 960, 1020, 1140, 1200, 1320, 1380],
            "labels": false,
            "grid": false,
            "domain": false,
            "tickSize": 3,
            "tickColor": "black",
            "title": null
          }
        },
        "y": {
          "datum": 0,
          "type": "quantitative",
          "scale": {"domain": [-60, 30], "nice": false, "zero": false},
          "axis": {
            "orient": "left",
            "values": [-58, -56, -54, -52, -48, -46, -44, -42, -38, -36, -34, -32, -28, -26, -24, -22, -18, -16, -14, -12, -8, -6, -4, -2, 2, 4, 6, 8, 12, 14, 16, 18, 22, 24, 26, 28],
            "labels": false,
            "grid": false,
            "domain": false,
            "tickSize": 3,
            "tickColor": "black",
            "title": null
          }
        }
      }
    },
    {
      "data": {"values": [{}]},
      "mark": {"type": "point", "opacity": 0},
      "encoding": {
        "x": {
          "datum": 0,
          "type": "quantitative",
          "scale": {"domain": [0, 1440], "nice": false, "zero": false},
          "axis": {
            "orient": "top",
            "values": [],
            "labels": false,
            "ticks": false,
            "grid": false,
            "domain": false,
            "title": "Reflectivity from METEK MIRA-35S DCR and OTT HydroMet Parsivel2 disdrometer",
            "titleFontStyle": "italic",
            "titleFontSize": 16.6,
            "titleFontWeight": "normal",
            "titlePadding": 7
          }
        }
      }
    },
    {
      "data": {"values": [
        {"m": 1171.6, "z": 40.33}, {"m": 1194.7, "z": 42.15}, {"m": 1213.9, "z": 43.03}, {"m": 1233.2, "z": 43.44},
        {"m": 1252.4, "z": 43.52}, {"m": 1269.7, "z": 43.25}, {"m": 1285.1, "z": 42.59}, {"m": 1298.6, "z": 41.6},
        {"m": 1312.0, "z": 40.17}
      ]},
      "mark": {
        "type": "line",
        "strokeWidth": 3.2,
        "strokeCap": "round",
        "interpolate": "cardinal",
        "clip": false,
        "color": {"gradient": "linear", "stops": [
          {"offset": 0, "color": "#8ad6d2"},
          {"offset": 0.4, "color": "#2a8196"},
          {"offset": 0.7, "color": "#123a5a"},
          {"offset": 1, "color": "#0d1033"}
        ]}
      },
      "encoding": {
        "x": {"field": "m", "type": "quantitative", "scale": {"domain": [0, 1440], "nice": false, "zero": false}, "axis": null},
        "y": {"field": "z", "type": "quantitative", "scale": {"domain": [-60, 30], "nice": false, "zero": false}, "axis": null}
      }
    },
    {
      "data": {"values": [{"m": 1285.1, "z": 45.0, "z2": 39.5}]},
      "mark": {"type": "rule", "color": "#0d1033", "strokeWidth": 2, "clip": false},
      "encoding": {
        "x": {"field": "m", "type": "quantitative", "scale": {"domain": [0, 1440], "nice": false, "zero": false}, "axis": null},
        "y": {"field": "z", "type": "quantitative", "scale": {"domain": [-60, 30], "nice": false, "zero": false}, "axis": null},
        "y2": {"field": "z2"}
      }
    },
    {
      "data": {"values": [{"m": 1241.8, "z": 36.97, "label": "A\u2002C\u2002T\u2002R\u2002I\u2002S"}]},
      "mark": {"type": "text", "font": "Lato", "fontSize": 27, "color": "#0d1033", "align": "center", "baseline": "alphabetic", "clip": false},
      "encoding": {
        "x": {"field": "m", "type": "quantitative", "scale": {"domain": [0, 1440], "nice": false, "zero": false}, "axis": null},
        "y": {"field": "z", "type": "quantitative", "scale": {"domain": [-60, 30], "nice": false, "zero": false}, "axis": null},
        "text": {"field": "label"}
      }
    },
    {
      "data": {"values": [{"m": 1239.9, "z": 34.44, "label": "CCRES"}]},
      "mark": {"type": "text", "font": "Lato", "fontSize": 17, "color": "#0d1033", "align": "center", "baseline": "alphabetic", "clip": false},
      "encoding": {
        "x": {"field": "m", "type": "quantitative", "scale": {"domain": [0, 1440], "nice": false, "zero": false}, "axis": null},
        "y": {"field": "z", "type": "quantitative", "scale": {"domain": [-60, 30], "nice": false, "zero": false}, "axis": null},
        "text": {"field": "label"}
      }
    }
  ],
  "resolve": {"axis": {"x": "independent", "y": "independent"}},
  "config": {
    "font": "DejaVu Sans",
    "view": {"stroke": "black", "strokeWidth": 1},
    "axis": {"labelColor": "black", "titleColor": "black", "labelFont": "DejaVu Sans", "titleFont": "DejaVu Sans"},
    "legend": {"labelFont": "DejaVu Sans"}
  }
}
